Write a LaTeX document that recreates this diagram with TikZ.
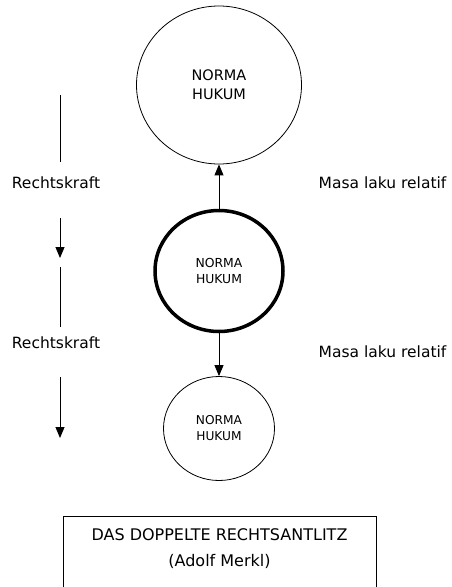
\documentclass[tikz,border=0pt]{standalone}
\usepackage{fontspec}
\setmainfont{DejaVu Sans}
\usetikzlibrary{arrows.meta,shapes.geometric}
\tikzset{
  norm/.style={draw, ellipse, inner sep=0pt, align=center, line width=0.8pt},
  tip/.style={-{Triangle[width=9pt,length=11pt]}, line width=0.9pt},
  plain/.style={line width=0.9pt},
  lbl/.style={font=\fontsize{15.5}{18}\selectfont, inner sep=0pt},
}
\begin{document}
\begin{tikzpicture}[x=1pt,y=-1pt]
\useasboundingbox (0,0) rectangle (451,587);
\clip (0,0) rectangle (451,587);
\fill[white] (0,0) rectangle (451,587);

% the three norm levels
\node[norm, minimum width=165pt, minimum height=158pt,
      font=\fontsize{14.5}{19}\selectfont] (top) at (219,85) {NORMA\\HUKUM};
\node[norm, line width=3.5pt, minimum width=128pt, minimum height=121pt,
      font=\fontsize{12.4}{16}\selectfont] (mid) at (219,271) {NORMA\\HUKUM};
\node[norm, minimum width=111pt, minimum height=104pt,
      font=\fontsize{12.2}{16}\selectfont] (bot) at (219,428.5) {NORMA\\HUKUM};

\draw[tip] (mid.north) -- (top.south);
\draw[tip] (mid.south) -- (bot.north);

% Rechtskraft axis on the left
\coordinate (a1) at (60,95);
\coordinate (a2) at (60,162);
\coordinate (b1) at (60,218);
\coordinate (b2) at (60,258);
\coordinate (c1) at (60,267);
\coordinate (c2) at (60,327);
\coordinate (d1) at (60,377);
\coordinate (d2) at (60,438);
\draw[plain] (a1) -- (a2);
\draw[tip] (b1) -- (b2);
\draw[plain] (c1) -- (c2);
\draw[tip] (d1) -- (d2);

\node[lbl] (rk1) at (56,183) {Rechtskraft};
\node[lbl] (rk2) at (56,343) {Rechtskraft};

% validity labels on the right
\node[lbl] (ml1) at (382.5,183) {Masa laku relatif};
\node[lbl] (ml2) at (382.5,352) {Masa laku relatif};

% caption frame
\node[draw, line width=0.8pt, minimum width=313pt, minimum height=100pt,
      anchor=north, inner sep=0pt] (frame) at (219.5,516) {};
\node[align=center, font=\fontsize{16}{26}\selectfont, anchor=north, inner sep=0pt]
  (cap) at ([yshift=-12pt]frame.north) {DAS DOPPELTE RECHTSANTLITZ\\(Adolf Merkl)};
\end{tikzpicture}
\end{document}
